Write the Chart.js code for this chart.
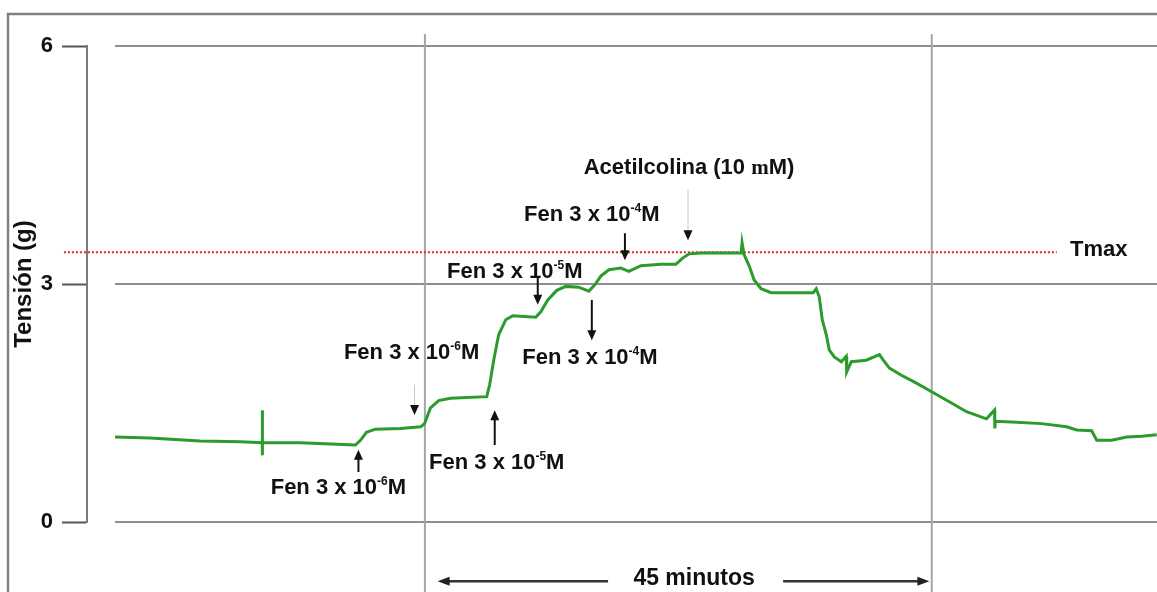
<!DOCTYPE html>
<html>
<head>
  <meta charset="UTF-8">
  <title>Tensión - Fenilefrina y Acetilcolina</title>
  <script src="https://cdn.jsdelivr.net/npm/chart.js@4.4.1/dist/chart.umd.min.js"></script>
  <style>
    body { margin: 0; background: #fff; }
  </style>
</head>
<body>
  <canvas id="chartTension" width="1157" height="592"></canvas>

  <script>
    // registro de tensión (g) frente al tiempo (min)
    const timeMin = [
      2.49, 5.60, 10.05, 13.61, 15.56, 15.56, 15.56, 15.60, 18.94, 23.83,
      24.28, 24.81, 25.61, 27.84, 29.62, 29.97, 30.50, 31.22, 32.28, 35.49,
      35.75, 36.11, 36.55, 37.18, 37.80, 39.84, 40.29, 40.91, 41.71, 42.51,
      43.67, 44.56, 45.09, 45.62, 46.34, 47.40, 48.11, 49.18, 50.96, 52.29,
      52.83, 53.45, 54.52, 58.08, 58.16, 58.34, 58.79, 59.23, 59.85, 60.74,
      64.48, 64.74, 65.01, 65.28, 65.64, 65.90, 66.35, 66.97, 67.41, 67.45,
      67.86, 69.19, 70.35, 70.70, 71.24, 72.31, 73.64, 75.15, 76.75, 78.09,
      79.86, 80.58, 80.60, 80.65, 82.09, 84.76, 86.98, 87.87, 89.20, 89.65,
      90.98, 92.31, 93.65, 94.98
    ];
    const tension = [
      1.07, 1.06, 1.02, 1.01, 1.00, 1.41, 0.84, 1.00, 1.00, 0.97,
      1.03, 1.13, 1.17, 1.18, 1.20, 1.24, 1.44, 1.53, 1.56, 1.58,
      1.73, 2.04, 2.36, 2.55, 2.60, 2.58, 2.65, 2.80, 2.92, 2.97,
      2.96, 2.91, 2.99, 3.10, 3.18, 3.20, 3.16, 3.23, 3.25, 3.25,
      3.32, 3.38, 3.39, 3.39, 3.52, 3.37, 3.23, 3.05, 2.94, 2.89,
      2.89, 2.94, 2.84, 2.55, 2.36, 2.17, 2.08, 2.02, 2.09, 1.89,
      2.02, 2.04, 2.11, 2.04, 1.94, 1.85, 1.75, 1.63, 1.50, 1.39,
      1.30, 1.41, 1.18, 1.27, 1.26, 1.24, 1.20, 1.16, 1.15, 1.03,
      1.03, 1.07, 1.08, 1.10
    ];

    const yTicks = [0, 3, 6];
    const markTimes = [30, 75];   // inicio y fin de los 45 minutos
    const TMAX = 3.40;

    const doseText = ['Fen 3 x 10', 'Fen 3 x 10', 'Fen 3 x 10', 'Fen 3 x 10', 'Fen 3 x 10', 'Fen 3 x 10'];
    const doseExp = ['-6', '-6', '-5', '-5', '-4', '-4'];

    const SANS = '"Liberation Sans", Arial, sans-serif';
    const SERIF = '"Liberation Serif", "DejaVu Serif", serif';

    // dónde va cada rótulo (t, g) y su flecha
    const dosePlace = [
      { t: 22.32, v: 0.45, at: 24.10, from: 0.63, to: 0.91 },
      { t: 28.82, v: 2.16, at: 29.08, from: 1.73, to: 1.35, faint: true },
      { t: 36.38, v: 0.77, at: 36.20, from: 0.97, to: 1.41 },
      { t: 37.98, v: 3.18, at: 40.02, from: 3.08, to: 2.74 },
      { t: 44.65, v: 2.09, at: 44.82, from: 2.80, to: 2.29 },
      { t: 44.82, v: 3.90, at: 47.76, from: 3.64, to: 3.30 }
    ];

    function arrowHead(ctx, x, y, dx, dy, len, half) {
      ctx.beginPath();
      ctx.moveTo(x, y);
      ctx.lineTo(x - dx * len - dy * half, y - dy * len + dx * half);
      ctx.lineTo(x - dx * len + dy * half, y - dy * len - dx * half);
      ctx.closePath();
      ctx.fill();
    }

    function vArrow(ctx, x, y1, y2, faint) {
      const dir = y2 > y1 ? 1 : -1;
      ctx.save();
      ctx.strokeStyle = faint ? '#c8c8c8' : '#111';
      ctx.lineWidth = faint ? 1 : 2;
      ctx.beginPath();
      ctx.moveTo(x, y1);
      ctx.lineTo(x, y2 - dir * 8);
      ctx.stroke();
      ctx.fillStyle = '#111';
      arrowHead(ctx, x, y2, 0, dir, 10, 4.5);
      ctx.restore();
    }

    function doseLabel(ctx, cx, cy, base, exp) {
      const big = 'bold 22px ' + SANS;
      const small = 'bold 12px ' + SANS;
      ctx.font = big;
      const wb = ctx.measureText(base).width;
      const wm = ctx.measureText('M').width;
      ctx.font = small;
      const we = ctx.measureText(exp).width;
      let x = cx - (wb + we + wm) / 2;
      const base_y = cy + 8;
      ctx.textAlign = 'left';
      ctx.textBaseline = 'alphabetic';
      ctx.fillStyle = '#111';
      ctx.font = big;
      ctx.fillText(base, x, base_y);
      x += wb;
      ctx.font = small;
      ctx.fillText(exp, x, base_y - 9);
      x += we;
      ctx.font = big;
      ctx.fillText('M', x, base_y);
    }

    const overlay = {
      id: 'overlay',
      beforeDatasetsDraw(chart) {
        const { ctx, scales: { x, y } } = chart;
        ctx.save();
        // marco
        ctx.strokeStyle = '#808080';
        ctx.lineWidth = 2.5;
        ctx.strokeRect(8, 14, 1300, 700);

        // líneas de referencia horizontales
        ctx.strokeStyle = '#8e8e8e';
        ctx.lineWidth = 2;
        yTicks.forEach(v => {
          const py = y.getPixelForValue(v);
          ctx.beginPath();
          ctx.moveTo(x.getPixelForValue(2.49), py);
          ctx.lineTo(chart.width, py);
          ctx.stroke();
        });

        // líneas verticales
        ctx.strokeStyle = '#a5a5a5';
        markTimes.forEach(t => {
          const px = x.getPixelForValue(t);
          ctx.beginPath();
          ctx.moveTo(px, y.getPixelForValue(6.15));
          ctx.lineTo(px, chart.height);
          ctx.stroke();
        });

        // Tmax
        ctx.strokeStyle = '#e02828';
        ctx.setLineDash([2, 2]);
        ctx.lineWidth = 2;
        const ty = y.getPixelForValue(TMAX);
        ctx.beginPath();
        ctx.moveTo(x.getPixelForValue(-2.05), ty);
        ctx.lineTo(x.getPixelForValue(86.1), ty);
        ctx.stroke();
        ctx.restore();
      },
      afterDatasetsDraw(chart) {
        const { ctx, scales: { x, y } } = chart;
        ctx.save();

        dosePlace.forEach((p, i) => {
          doseLabel(ctx, x.getPixelForValue(p.t), y.getPixelForValue(p.v), doseText[i], doseExp[i]);
          const ax = x.getPixelForValue(p.at);
          vArrow(ctx, ax, y.getPixelForValue(p.from), y.getPixelForValue(p.to), p.faint);
        });

        // acetilcolina
        const acx = x.getPixelForValue(53.45);
        const acy = y.getPixelForValue(4.49) + 8;
        const a1 = 'Acetilcolina (10 ', a2 = 'm', a3 = 'M)';
        ctx.font = 'bold 22px ' + SANS;
        const w1 = ctx.measureText(a1).width, w3 = ctx.measureText(a3).width;
        ctx.font = 'bold 21px ' + SERIF;
        const w2 = ctx.measureText(a2).width;
        let sx = acx - (w1 + w2 + w3) / 2;
        ctx.fillStyle = '#111';
        ctx.textAlign = 'left';
        ctx.textBaseline = 'alphabetic';
        ctx.font = 'bold 22px ' + SANS;
        ctx.fillText(a1, sx, acy);
        ctx.font = 'bold 21px ' + SERIF;
        ctx.fillText(a2, sx + w1, acy);
        ctx.font = 'bold 22px ' + SANS;
        ctx.fillText(a3, sx + w1 + w2, acy);
        vArrow(ctx, x.getPixelForValue(53.36), y.getPixelForValue(4.19), y.getPixelForValue(3.55), true);

        // Tmax
        ctx.font = 'bold 22px ' + SANS;
        ctx.textAlign = 'center';
        ctx.textBaseline = 'middle';
        ctx.fillText('Tmax', x.getPixelForValue(89.83), y.getPixelForValue(3.43));

        // 45 minutos
        const my = y.getPixelForValue(-0.71);
        const mx = x.getPixelForValue(53.9);
        ctx.font = 'bold 23px ' + SANS;
        ctx.fillText('45 minutos', mx, my);
        const lx = x.getPixelForValue(31.13), rx = x.getPixelForValue(74.79);
        const ly = my + 3;
        ctx.strokeStyle = '#333';
        ctx.fillStyle = '#222';
        ctx.lineWidth = 2.5;
        ctx.beginPath();
        ctx.moveTo(lx + 6, ly); ctx.lineTo(mx - 86, ly);
        ctx.moveTo(mx + 89, ly); ctx.lineTo(rx - 6, ly);
        ctx.stroke();
        arrowHead(ctx, lx, ly, -1, 0, 12, 4.5);
        arrowHead(ctx, rx, ly, 1, 0, 12, 4.5);
        ctx.restore();
      }
    };

    const chartTension = new Chart(document.getElementById('chartTension'), {
      type: 'line',
      data: {
        datasets: [{
          data: timeMin.map((t, i) => ({ x: t, y: tension[i] })),
          borderColor: '#2b9b2b',
          borderWidth: 3,
          pointRadius: 0,
          tension: 0
        }]
      },
      options: {
        responsive: false,
        animation: false,
        layout: { padding: { top: 46, bottom: 70, left: 0, right: 0 } },
        plugins: { legend: { display: false }, tooltip: { enabled: false } },
        scales: {
          x: { type: 'linear', min: 0, max: 95, display: false },
          y: {
            min: 0, max: 6,
            afterFit(scale) { scale.width = 87; },
            ticks: { stepSize: 3, color: '#111', padding: 9, font: { family: SANS, size: 22, weight: 'bold' } },
            grid: { drawOnChartArea: false, tickLength: 25, tickColor: '#555', tickWidth: 2 },
            border: { color: '#7a7a7a', width: 2 },
            title: {
              display: true, text: 'Tensión (g)', color: '#111',
              font: { family: SANS, size: 24, weight: 'bold' },
              padding: { top: 10, bottom: 0 }
            }
          }
        }
      },
      plugins: [overlay]
    });
  </script>
</body>
</html>
